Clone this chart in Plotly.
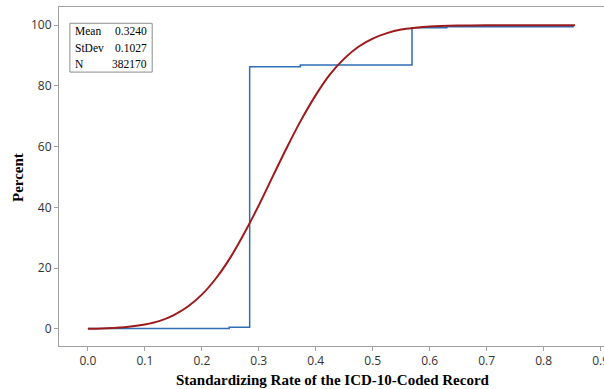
import plotly.graph_objects as go

ecdf_x = [0.0, 0.248, 0.248, 0.284, 0.284, 0.373, 0.373, 0.569, 0.569, 0.63, 0.63, 0.853]
ecdf_y = [0.2, 0.2, 0.6, 0.6, 86.3, 86.3, 86.9, 86.9, 99.2, 99.2, 99.5, 99.5]

# Fitted normal CDF
fit_x = [0.0, 0.025, 0.05, 0.075, 0.1, 0.125, 0.15, 0.175, 0.2, 0.225, 0.25, 0.275,
         0.3, 0.325, 0.35, 0.375, 0.4, 0.425, 0.45, 0.475, 0.5, 0.525, 0.55, 0.575,
         0.6, 0.65, 0.7, 0.75, 0.8, 0.855]
fit_y = [0.1, 0.2, 0.4, 0.8, 1.5, 2.6, 4.5, 7.3, 11.3, 16.7, 23.5, 31.7,
         40.7, 50.4, 60.0, 69.0, 77.0, 83.8, 89.0, 92.9, 95.6, 97.4, 98.6, 99.2,
         99.6, 99.9, 100.0, 100.0, 100.0, 100.0]

stat_names = ["Mean", "StDev", "N"]
stat_values = ["0.3240", "0.1027", "382170"]

x_ticks = [0.0, 0.1, 0.2, 0.3, 0.4, 0.5, 0.6, 0.7, 0.8, 0.9]
y_ticks = [0, 20, 40, 60, 80, 100]

fig = go.Figure()
fig.add_trace(go.Scatter(x=ecdf_x, y=ecdf_y, mode="lines",
                         line=dict(color="#2f6db5", width=1.5), showlegend=False))
fig.add_trace(go.Scatter(x=fit_x, y=fit_y, mode="lines", line_shape="spline",
                         line=dict(color="#9c1a1c", width=2), showlegend=False))

tick_font = dict(family="Open Sans, DejaVu Sans, sans-serif", size=12, color="#333333")
title_font = dict(family="Liberation Serif, Times New Roman, serif", size=15, color="#000000")

fig.update_layout(
    width=604, height=389,
    margin=dict(l=59, r=0, t=7, b=43, autoexpand=False),
    paper_bgcolor="white", plot_bgcolor="white",
    xaxis=dict(range=[-0.0507, 0.906], tickvals=x_ticks, automargin=False,
               ticktext=[f"{v:.1f}" for v in x_ticks], ticklabeloverflow="allow",
               showgrid=False, zeroline=False, showline=True, linecolor="#a0a0a0",
               linewidth=1, mirror=True, ticks="outside", ticklen=4, tickcolor="#a0a0a0",
               tickfont=tick_font),
    yaxis=dict(range=[-5.6, 106], tickvals=y_ticks, showgrid=False, zeroline=False,
               automargin=False,
               showline=True, linecolor="#a0a0a0", linewidth=1, ticks="outside",
               ticklen=4, tickcolor="#a0a0a0", tickfont=tick_font),
)

# Axis titles
fig.add_annotation(xref="paper", yref="paper", x=(333 - 59) / 545, y=-(380 - 346) / 339,
                   text="<b>Standardizing Rate of the ICD-10-Coded Record</b>",
                   showarrow=False, xanchor="center", yanchor="middle", font=title_font)
fig.add_annotation(xref="paper", yref="paper", x=-(59 - 18) / 545, y=(346 - 178) / 339,
                   text="<b>Percent</b>", textangle=-90,
                   showarrow=False, xanchor="center", yanchor="middle", font=title_font)

# Stats box
box_l, box_r, box_t, box_b = 0.020, 0.171, 0.952, 0.808
fig.add_shape(type="rect", xref="paper", yref="paper", x0=box_l, x1=box_r, y0=box_b, y1=box_t,
              line=dict(color="#8c8c8c", width=1), fillcolor="white")
row_h = (box_t - box_b) / 3
stat_font = dict(family="Liberation Serif, Times New Roman, serif", size=11.5, color="#000000")
for i, (n, v) in enumerate(zip(stat_names, stat_values)):
    yc = box_t - row_h * (i + 0.5)
    fig.add_annotation(xref="paper", yref="paper", x=box_l + 0.006, y=yc, text=n,
                       showarrow=False, xanchor="left", yanchor="middle", font=stat_font)
    fig.add_annotation(xref="paper", yref="paper", x=box_r - 0.006, y=yc, text=v,
                       showarrow=False, xanchor="right", yanchor="middle", font=stat_font)

fig.write_html("out.html", config={"displayModeBar": False},
               post_script="document.body.style.margin='0';document.body.style.overflow='hidden';")
